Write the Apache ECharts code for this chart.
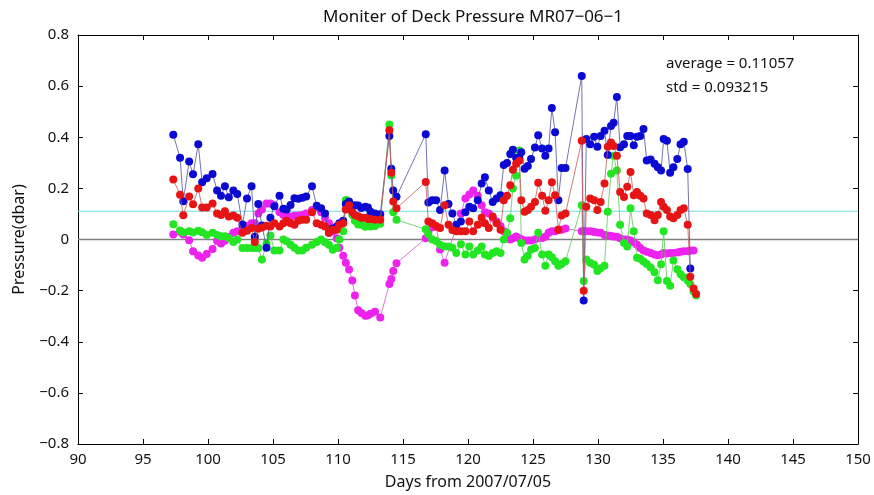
<!DOCTYPE html>
<html>
<head>
<meta charset="utf-8">
<script src="https://cdn.jsdelivr.net/npm/echarts@6/dist/echarts.min.js"></script>
<style>html,body{margin:0;padding:0;background:#fff;}#c{width:874px;height:495px;}</style>
</head>
<body>
<div id="c"></div>
<script>
const days = [97.33,97.85,98.1,98.55,98.85,99.25,99.55,99.9,100.35,100.7,101.0,101.3,101.6,101.95,102.25,102.65,103.0,103.35,103.6,103.87,
104.15,104.5,104.8,105.1,105.5,105.8,106.05,106.35,106.65,106.95,107.25,107.55,108.0,108.36,108.7,109.0,109.3,109.6,109.9,110.1,
110.4,110.6,110.85,111.1,111.3,111.55,111.8,112.1,112.3,112.5,112.85,113.25,113.95,114.1,114.25,114.5,116.75,116.95,117.25,117.55,
117.85,118.2,118.5,118.8,119.1,119.45,119.8,120.1,120.4,120.75,121.05,121.3,121.6,121.9,122.2,122.5,122.75,123.0,123.25,123.45,
123.7,123.95,124.1,124.35,124.6,124.85,125.15,125.4,125.7,125.95,126.2,126.45,126.7,126.95,127.2,127.5,128.75,128.9,129.1,129.4,
129.7,129.95,130.2,130.5,130.75,131.0,131.2,131.45,131.7,132.0,132.25,132.5,132.75,133.0,133.25,133.5,133.75,134.05,134.35,134.6,
134.85,135.05,135.3,135.55,135.8,136.1,136.35,136.6,136.9,137.1,137.35,137.55];

const sensorBlue = [0.41,0.32,0.15,0.305,0.255,0.373,0.224,0.24,0.256,0.192,0.171,0.208,0.165,0.192,0.178,0.059,0.16,0.208,0.011,0.139,
0.055,-0.032,0.085,0.13,0.171,0.12,0.117,0.135,0.161,0.159,0.163,0.168,0.208,0.132,0.122,0.102,0.026,0.043,0.051,0.064,
0.073,0.139,0.149,0.128,0.134,0.133,0.123,0.128,0.125,0.109,0.102,0.099,0.405,0.277,0.192,0.167,0.412,0.145,0.154,0.154,
0.115,0.27,0.139,0.102,0.058,0.07,0.107,0.128,0.122,0.154,0.219,0.244,0.192,0.147,0.16,0.173,0.291,0.299,0.334,0.351,
0.32,0.318,0.341,0.277,0.288,0.315,0.36,0.408,0.356,0.328,0.356,0.514,0.42,0.154,0.28,0.28,0.64,-0.239,0.393,0.373,
0.402,0.363,0.405,0.425,0.331,0.444,0.457,0.557,0.361,0.373,0.405,0.405,0.369,0.402,0.405,0.432,0.309,0.313,0.296,0.283,
0.27,0.393,0.386,0.261,0.283,0.315,0.373,0.382,0.276,-0.113,null,null];

const sensorRed = [0.235,0.175,0.095,0.168,0.138,0.2,0.125,0.125,0.141,0.102,0.096,0.111,0.09,0.094,0.085,0.026,0.034,0.045,-0.01,0.042,
0.047,0.054,0.051,0.064,0.051,0.064,0.073,0.064,0.058,0.073,0.077,0.077,0.107,0.064,0.058,0.051,0.026,0.038,0.038,0.058,
0.064,0.117,0.134,0.107,0.096,0.091,0.085,0.085,0.08,0.08,0.077,0.077,0.427,0.261,0.149,0.122,0.225,0.07,0.064,0.053,
0.045,0.134,0.058,0.037,0.032,0.032,0.032,0.07,0.032,0.058,0.085,0.064,0.045,0.09,0.064,0.038,0.154,0.171,0.212,0.273,
0.296,0.308,0.154,0.109,0.115,0.128,0.147,0.222,0.171,0.112,0.154,0.224,0.173,0.038,0.094,0.102,0.386,-0.2,0.128,0.16,
0.154,0.115,0.147,0.219,0.363,0.379,0.366,0.328,0.186,0.166,0.206,0.264,0.173,0.186,0.171,0.16,0.102,0.096,0.075,0.096,
0.147,0.128,0.115,0.09,0.083,0.096,0.115,0.122,0.058,-0.146,-0.192,-0.213];

const sensorGreen = [0.06,0.035,0.027,0.032,0.027,0.034,0.028,0.018,0.026,0.018,0.013,0.013,0.006,-0.01,0.0,-0.033,-0.033,-0.033,-0.033,-0.033,
-0.078,-0.016,0.016,-0.043,-0.043,0.0,-0.007,-0.021,-0.032,-0.043,-0.043,-0.032,-0.021,-0.01,0.0,-0.011,-0.021,-0.04,-0.032,0.0,
0.032,0.155,0.128,0.096,0.073,0.059,0.058,0.05,0.053,0.051,0.053,0.062,0.45,0.25,0.107,0.077,0.04,0.021,0.0,-0.006,
-0.021,-0.027,-0.027,-0.032,-0.053,-0.019,-0.059,-0.027,-0.059,-0.043,-0.027,-0.059,-0.065,-0.053,-0.046,-0.053,0.0,0.026,0.083,0.2,
0.249,0.348,-0.014,-0.078,-0.064,-0.039,-0.033,0.026,-0.059,-0.103,-0.059,-0.069,-0.085,-0.103,-0.096,-0.085,0.134,-0.162,-0.078,-0.091,
-0.099,-0.123,-0.112,-0.103,0.109,0.257,0.328,0.27,0.058,-0.014,-0.027,0.122,0.032,-0.071,-0.075,-0.086,-0.096,-0.11,-0.128,-0.159,
-0.097,0.032,-0.162,-0.181,-0.082,-0.116,-0.136,-0.148,-0.16,-0.174,-0.203,-0.219];

const sensorMagenta = [0.02,0.03,0.02,-0.003,-0.046,-0.063,-0.071,-0.057,-0.037,-0.005,-0.016,-0.005,0.01,0.026,0.032,0.043,0.053,0.064,0.064,0.102,
0.117,0.141,0.141,0.134,0.107,0.096,0.09,0.09,0.093,0.094,0.096,0.102,0.115,0.125,0.107,0.085,0.064,0.032,0.005,-0.032,
-0.064,-0.091,-0.117,-0.16,-0.219,-0.277,-0.288,-0.298,-0.296,-0.29,-0.283,-0.305,-0.174,-0.155,-0.123,-0.093,0.005,0.032,0.048,0.05,
-0.039,-0.091,null,null,null,0.102,0.16,0.176,0.192,0.171,0.134,0.107,0.102,0.085,0.07,0.053,0.032,0.011,0.0,0.005,
0.012,0.005,0.0,-0.004,-0.004,-0.004,0.0,0.006,0.006,0.011,0.026,0.032,0.032,0.038,0.038,0.043,0.032,0.032,0.032,0.032,
0.029,0.027,0.026,0.018,0.016,0.014,0.012,0.011,0.005,0.0,0.0,-0.004,-0.011,-0.021,-0.033,-0.043,-0.048,-0.053,-0.059,-0.062,
-0.059,-0.053,-0.055,-0.053,-0.053,-0.051,-0.048,-0.046,-0.046,-0.043,-0.043,null];

const averageValue = 0.11057;
const stdValue = 0.093215;
const xTicks = {min: 90, max: 150, interval: 5};
const yTicks = {min: -0.8, max: 0.8, interval: 0.2};

const FONT = 'Noto Sans';
function pairs(vals){ const out=[]; for(let i=0;i<days.length;i++){ if(vals[i]!==null && vals[i]!==undefined) out.push([days[i], vals[i]]); } return out; }
function mk(name, vals, col, lineCol, z){
  return {name, type:'line', data:pairs(vals), symbol:'circle', symbolSize:8, z:z,
    itemStyle:{color:col}, lineStyle:{color:lineCol, width:1}, connectNulls:true, animation:false};
}
function yfmt(v){ const r=Math.round(v*10)/10; if(r===0) return '0'; return (r<0?'\u2212':'')+Math.abs(r).toFixed(1); }

const chart = echarts.init(document.getElementById('c'), null, {renderer:'canvas'});
const axisLine = {show:true, onZero:false, lineStyle:{color:'#000', width:1}};
const tick = {show:true, inside:true, length:5, lineStyle:{color:'#000'}};
const series = [
  mk('magenta', sensorMagenta, '#ee22ee', 'rgba(200,90,200,0.8)', 3),
  mk('green', sensorGreen, '#22e622', 'rgba(90,200,90,0.8)', 4),
  mk('blue', sensorBlue, '#0a0ad2', 'rgba(80,80,160,0.8)', 5),
  mk('red', sensorRed, '#e61414', 'rgba(200,90,90,0.8)', 6)
];
series.push({type:'line', data:[[xTicks.min,0],[xTicks.max,0]], symbol:'none', lineStyle:{color:'#808080', width:1.5}, z:2, animation:false, silent:true});
series.push({type:'line', data:[[xTicks.min,averageValue],[xTicks.max,averageValue]], symbol:'none', lineStyle:{color:'#70dede', width:1}, z:2, animation:false, silent:true});

chart.setOption({
  backgroundColor:'#fff',
  animation:false,
  title:{text:'Moniter of Deck Pressure MR07\u221206\u22121', left:468, top:4, textAlign:'center',
    textStyle:{fontFamily:FONT, fontSize:17, fontWeight:'normal', color:'#111'}},
  grid:{left:78, right:16, top:35, bottom:46, show:false},
  xAxis:[
    {type:'value', min:xTicks.min, max:xTicks.max, interval:xTicks.interval, position:'bottom',
     name:'Days from 2007/07/05', nameLocation:'middle', nameGap:30,
     nameTextStyle:{fontFamily:FONT, fontSize:16, color:'#111'},
     axisLine:axisLine, axisTick:tick, splitLine:{show:false},
     axisLabel:{fontFamily:FONT, fontSize:15, color:'#111', margin:8}},
    {type:'value', min:xTicks.min, max:xTicks.max, interval:xTicks.interval, position:'top',
     axisLine:axisLine, axisTick:tick, splitLine:{show:false}, axisLabel:{show:false}}
  ],
  yAxis:[
    {type:'value', min:yTicks.min, max:yTicks.max, interval:yTicks.interval, position:'left',
     name:'Pressure(dbar)', nameLocation:'middle', nameGap:51, nameRotate:90,
     nameTextStyle:{fontFamily:FONT, fontSize:16, color:'#111'},
     axisLine:axisLine, axisTick:tick, splitLine:{show:false},
     axisLabel:{fontFamily:FONT, fontSize:15, color:'#111', margin:9, formatter:yfmt}},
    {type:'value', min:yTicks.min, max:yTicks.max, interval:yTicks.interval, position:'right',
     axisLine:axisLine, axisTick:tick, splitLine:{show:false}, axisLabel:{show:false}}
  ],
  graphic:[
    {type:'text', left:666, top:56, style:{text:'average = ' + averageValue, font:'15px "Noto Sans"', fill:'#111'}},
    {type:'text', left:666, top:80, style:{text:'std = ' + stdValue, font:'15px "Noto Sans"', fill:'#111'}}
  ],
  series: series
});
</script>
</body>
</html>
